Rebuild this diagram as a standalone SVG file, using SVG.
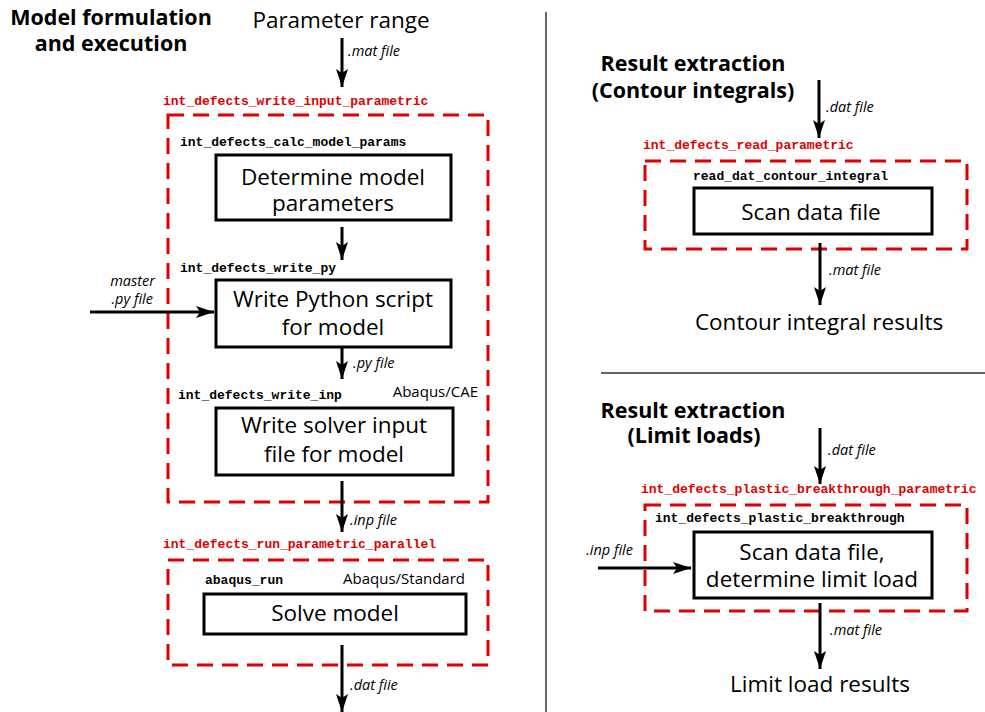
<svg xmlns="http://www.w3.org/2000/svg" width="985" height="712" viewBox="0 0 985 712">
<defs>
<marker id="ah" viewBox="0 0 18 12" markerWidth="18" markerHeight="12" refX="18" refY="6" orient="auto" markerUnits="userSpaceOnUse">
<path d="M0,0 L18,6 L0,12 L4,6 z" fill="#000"/>
</marker>
<style>
.title{font-family:"Open Sans","Liberation Sans",sans-serif;font-weight:bold;font-size:21.5px;fill:#000}
.txt{font-family:"Open Sans","Liberation Sans",sans-serif;font-size:22.5px;fill:#000}
.it{font-family:"Open Sans","Liberation Sans",sans-serif;font-style:italic;font-size:14.5px;fill:#000}
.sw{font-family:"Open Sans","Liberation Sans",sans-serif;font-size:15px;fill:#000}
.code{font-family:"Liberation Mono","Courier New",monospace;font-weight:bold;font-size:13px;fill:#000}
.red{font-family:"Liberation Mono","Courier New",monospace;font-weight:bold;font-size:13px;fill:#e00000}
.dash{fill:none;stroke:#e00000;stroke-width:3;stroke-dasharray:16 9}
.box{fill:#fff;stroke:#000;stroke-width:3}
.conn{stroke:#000;stroke-width:3;fill:none;marker-end:url(#ah)}
.rule{stroke:#333;stroke-width:1.5}
</style>
</defs>
<rect width="985" height="712" fill="#fff"/>

<g id="headings">
<text class="title" x="111" y="25" text-anchor="middle">Model formulation</text>
<text class="title" x="111" y="51" text-anchor="middle">and execution</text>
<text class="txt" x="341" y="28" text-anchor="middle">Parameter range</text>
<text class="title" x="693" y="71" text-anchor="middle">Result extraction</text>
<text class="title" x="693" y="98" text-anchor="middle">(Contour integrals)</text>
<text class="txt" x="819" y="330" text-anchor="middle">Contour integral results</text>
<text class="title" x="693" y="418" text-anchor="middle">Result extraction</text>
<text class="title" x="694" y="443" text-anchor="middle">(Limit loads)</text>
<text class="txt" x="820" y="692" text-anchor="middle">Limit load results</text>
</g>

<g id="dividers">
<line class="rule" x1="546" y1="12" x2="546" y2="712"/>
<line class="rule" x1="601" y1="373" x2="985" y2="373"/>
</g>

<g id="write_input_parametric">
<text class="red" x="163" y="105">int_defects_write_input_parametric</text>
<rect class="dash" x="168" y="115" width="320" height="387"/>
</g>

<g id="calc_model_params">
<text class="code" x="180" y="146">int_defects_calc_model_params</text>
<rect class="box" x="216" y="155" width="235" height="65"/>
<text class="txt" x="333" y="185" text-anchor="middle">Determine model</text>
<text class="txt" x="333" y="211" text-anchor="middle">parameters</text>
</g>

<g id="write_py">
<text class="code" x="180" y="272">int_defects_write_py</text>
<rect class="box" x="216" y="280" width="235" height="67"/>
<text class="txt" x="333" y="307" text-anchor="middle">Write Python script</text>
<text class="txt" x="333" y="335" text-anchor="middle">for model</text>
</g>

<g id="write_inp">
<text class="code" x="178" y="399">int_defects_write_inp</text>
<text class="sw" x="478" y="397" text-anchor="end">Abaqus/CAE</text>
<rect class="box" x="216" y="408" width="237" height="67"/>
<text class="txt" x="334" y="433" text-anchor="middle">Write solver input</text>
<text class="txt" x="334" y="462" text-anchor="middle">file for model</text>
</g>

<g id="run_parametric_parallel">
<text class="red" x="163" y="548">int_defects_run_parametric_parallel</text>
<rect class="dash" x="168" y="560" width="320" height="105"/>
</g>

<g id="abaqus_run">
<text class="code" x="205" y="584">abaqus_run</text>
<text class="sw" x="465" y="584" text-anchor="end">Abaqus/Standard</text>
<rect class="box" x="204" y="594" width="262" height="40"/>
<text class="txt" x="335" y="621" text-anchor="middle">Solve model</text>
</g>

<g id="read_parametric">
<text class="red" x="643" y="149">int_defects_read_parametric</text>
<rect class="dash" x="645" y="161" width="322" height="88"/>
</g>

<g id="read_dat_contour_integral">
<text class="code" x="693" y="180">read_dat_contour_integral</text>
<rect class="box" x="694" y="188" width="238" height="46"/>
<text class="txt" x="811" y="220" text-anchor="middle">Scan data file</text>
</g>

<g id="plastic_breakthrough_parametric">
<text class="red" x="641" y="493">int_defects_plastic_breakthrough_parametric</text>
<rect class="dash" x="645" y="505" width="322" height="106"/>
</g>

<g id="plastic_breakthrough">
<text class="code" x="655" y="522">int_defects_plastic_breakthrough</text>
<rect class="box" x="694" y="532" width="238" height="66"/>
<text class="txt" x="812" y="560" text-anchor="middle">Scan data file,</text>
<text class="txt" x="812" y="587" text-anchor="middle">determine limit load</text>
</g>

<g id="connectors">
<line class="conn" x1="342" y1="38" x2="342" y2="87"/>
<text class="it" x="348" y="56">.mat file</text>
<line class="conn" x1="342" y1="227" x2="342" y2="260"/>
<line class="conn" x1="90" y1="312" x2="214" y2="312"/>
<text class="it" x="155" y="286" text-anchor="end">master</text>
<text class="it" x="153" y="304" text-anchor="end">.py file</text>
<line class="conn" x1="342" y1="348" x2="342" y2="379"/>
<text class="it" x="353" y="368">.py file</text>
<line class="conn" x1="342" y1="481" x2="342" y2="532"/>
<text class="it" x="350" y="525">.inp file</text>
<line class="conn" x1="342" y1="645" x2="342" y2="712"/>
<text class="it" x="350" y="690">.dat fiie</text>
<line class="conn" x1="819" y1="80" x2="819" y2="138"/>
<text class="it" x="826" y="112">.dat file</text>
<line class="conn" x1="820" y1="243" x2="820" y2="305"/>
<text class="it" x="829" y="275">.mat file</text>
<line class="conn" x1="820" y1="428" x2="820" y2="484"/>
<text class="it" x="828" y="455">.dat file</text>
<line class="conn" x1="598" y1="568" x2="691" y2="568"/>
<text class="it" x="633" y="555" text-anchor="end">.inp file</text>
<line class="conn" x1="820" y1="603" x2="820" y2="669"/>
<text class="it" x="830" y="635">.mat file</text>
</g>
</svg>
